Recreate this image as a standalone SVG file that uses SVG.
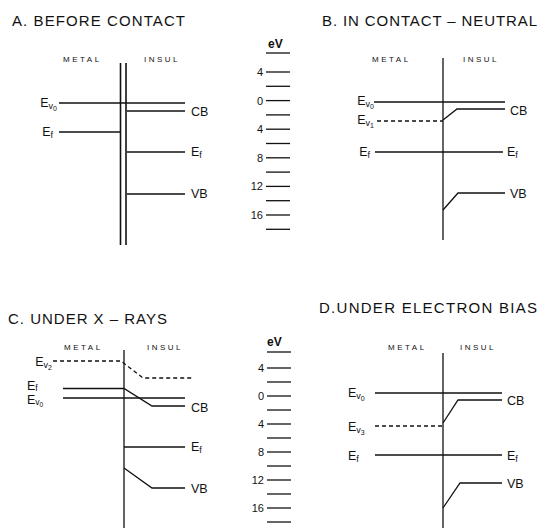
<svg xmlns="http://www.w3.org/2000/svg" width="539" height="528" viewBox="0 0 539 528">
<style>
text{font-family:"Liberation Sans",Arial,sans-serif;fill:#111}
.t{font-size:15px}
.sm{font-size:8px;letter-spacing:2.5px}
.l{font-size:12.5px}
.s{font-size:11px}
.ev{font-size:12px;font-weight:bold}
.ln{stroke:#111;stroke-width:1.3;fill:none}
.d{stroke-dasharray:4 3}
.vt{stroke:#111;stroke-width:1.6;fill:none}
</style>
<rect width="539" height="528" fill="#fff"/>

<g id="panelA">
<text class="t" x="12" y="26" textLength="173" lengthAdjust="spacing">A. BEFORE CONTACT</text>
<text class="sm" x="63" y="62">METAL</text>
<text class="sm" x="144" y="62">INSUL</text>
<line class="vt" x1="120.5" y1="63" x2="120.5" y2="245"/>
<line class="vt" x1="126" y1="63" x2="126" y2="245"/>
<line class="ln" x1="59" y1="103" x2="185" y2="103"/>
<line class="ln" x1="127" y1="111" x2="185" y2="111"/>
<line class="ln" x1="59" y1="132" x2="120" y2="132"/>
<line class="ln" x1="127" y1="152" x2="185" y2="152"/>
<line class="ln" x1="127" y1="194" x2="185" y2="194"/>
<text class="l" x="57" y="107" text-anchor="end">E<tspan font-size="9" dy="2">v</tspan><tspan font-size="7" dy="2">0</tspan></text>
<text class="l" x="53" y="136" text-anchor="end">E<tspan font-size="9" dy="2">f</tspan></text>
<text class="l" x="191" y="115.5">CB</text>
<text class="l" x="191" y="156">E<tspan font-size="9" dy="2">f</tspan></text>
<text class="l" x="191" y="198">VB</text>
</g>

<g id="scaleA">
<text class="ev" x="268" y="48">eV</text>
<g class="ln">
<line x1="266" y1="53" x2="290" y2="53"/>
<line x1="266" y1="72" x2="290" y2="72"/>
<line x1="266" y1="86.3" x2="290" y2="86.3"/>
<line x1="266" y1="100.6" x2="290" y2="100.6"/>
<line x1="266" y1="114.9" x2="290" y2="114.9"/>
<line x1="266" y1="129.2" x2="290" y2="129.2"/>
<line x1="266" y1="143.5" x2="290" y2="143.5"/>
<line x1="266" y1="157.8" x2="290" y2="157.8"/>
<line x1="266" y1="172.1" x2="290" y2="172.1"/>
<line x1="266" y1="186.4" x2="290" y2="186.4"/>
<line x1="266" y1="200.7" x2="290" y2="200.7"/>
<line x1="266" y1="215" x2="290" y2="215"/>
<line x1="266" y1="229.3" x2="290" y2="229.3"/>
</g>
<g text-anchor="end">
<text class="s" x="263" y="76">4</text>
<text class="s" x="263" y="104.6">0</text>
<text class="s" x="263" y="133.2">4</text>
<text class="s" x="263" y="161.8">8</text>
<text class="s" x="263" y="190.4">12</text>
<text class="s" x="263" y="219">16</text>
</g>
</g>

<g id="panelB">
<text class="t" x="322" y="26" textLength="215" lengthAdjust="spacing">B. IN CONTACT – NEUTRAL</text>
<text class="sm" x="372" y="62">METAL</text>
<text class="sm" x="463" y="62">INSUL</text>
<line class="ln" x1="443" y1="58" x2="443" y2="240"/>
<line class="ln" x1="374" y1="102" x2="505" y2="102"/>
<line class="ln d" x1="377" y1="121" x2="443" y2="121"/>
<polyline class="ln" points="443,120 457,109 505,109"/>
<line class="ln" x1="375" y1="152" x2="503" y2="152"/>
<polyline class="ln" points="443,210 458,193 505,193"/>
<text class="l" x="374" y="105" text-anchor="end">E<tspan font-size="9" dy="2">v</tspan><tspan font-size="7" dy="2">0</tspan></text>
<text class="l" x="374" y="124" text-anchor="end">E<tspan font-size="9" dy="2">v</tspan><tspan font-size="7" dy="2">1</tspan></text>
<text class="l" x="370" y="156" text-anchor="end">E<tspan font-size="9" dy="2">f</tspan></text>
<text class="l" x="510" y="114.5">CB</text>
<text class="l" x="507" y="156">E<tspan font-size="9" dy="2">f</tspan></text>
<text class="l" x="510" y="197.5">VB</text>
</g>

<g id="panelC">
<text class="t" x="8" y="324" textLength="159" lengthAdjust="spacing">C. UNDER X – RAYS</text>
<text class="sm" x="64" y="350">METAL</text>
<text class="sm" x="147" y="350">INSUL</text>
<line class="ln" x1="124" y1="350" x2="124" y2="528" stroke-width="2"/>
<polyline class="ln d" points="53,361 121,361 143,378 192,378"/>
<polyline class="ln" points="63,388.5 124,388.5 152,406 185,406"/>
<line class="ln" x1="63" y1="398" x2="185" y2="398"/>
<line class="ln" x1="124" y1="447" x2="185" y2="447"/>
<polyline class="ln" points="124,468 152,488 185,488"/>
<text class="l" x="52" y="366" text-anchor="end">E<tspan font-size="9" dy="2">v</tspan><tspan font-size="7" dy="2">2</tspan></text>
<text class="l" x="27" y="389.5" font-size="11.5">E<tspan font-size="8.5" dy="1">f</tspan></text>
<text class="l" x="27" y="403.5" font-size="11.5">E<tspan font-size="8.5" dy="1.5">v</tspan><tspan font-size="6.5" dy="1.5">0</tspan></text>
<text class="l" x="191" y="411.5">CB</text>
<text class="l" x="191" y="451">E<tspan font-size="9" dy="2">f</tspan></text>
<text class="l" x="191" y="492.5">VB</text>
</g>

<g id="scaleC">
<text class="ev" x="267" y="346">eV</text>
<g class="ln">
<line x1="267" y1="352" x2="291" y2="352"/>
<line x1="267" y1="368" x2="291" y2="368"/>
<line x1="267" y1="382" x2="291" y2="382"/>
<line x1="267" y1="396" x2="291" y2="396"/>
<line x1="267" y1="410" x2="291" y2="410"/>
<line x1="267" y1="424" x2="291" y2="424"/>
<line x1="267" y1="438" x2="291" y2="438"/>
<line x1="267" y1="452" x2="291" y2="452"/>
<line x1="267" y1="466" x2="291" y2="466"/>
<line x1="267" y1="480" x2="291" y2="480"/>
<line x1="267" y1="494" x2="291" y2="494"/>
<line x1="267" y1="508" x2="291" y2="508"/>
<line x1="267" y1="522" x2="291" y2="522"/>
</g>
<g text-anchor="end">
<text class="s" x="264" y="372">4</text>
<text class="s" x="264" y="400">0</text>
<text class="s" x="264" y="428">4</text>
<text class="s" x="264" y="456">8</text>
<text class="s" x="264" y="484">12</text>
<text class="s" x="264" y="512">16</text>
</g>
</g>

<g id="panelD">
<text class="t" x="319" y="313" textLength="218" lengthAdjust="spacing">D.UNDER ELECTRON BIAS</text>
<text class="sm" x="388" y="350">METAL</text>
<text class="sm" x="460" y="350">INSUL</text>
<line class="ln" x1="443" y1="353" x2="443" y2="528"/>
<line class="ln" x1="375" y1="393" x2="502" y2="393"/>
<polyline class="ln" points="443,423 458,400 502,400"/>
<line class="ln d" x1="375" y1="426" x2="443" y2="426"/>
<line class="ln" x1="375" y1="455" x2="502" y2="455"/>
<polyline class="ln" points="443,508 460,483 502,483"/>
<text class="l" x="348" y="397">E<tspan font-size="9" dy="2">v</tspan><tspan font-size="7" dy="2">0</tspan></text>
<text class="l" x="348" y="431">E<tspan font-size="9" dy="2">v</tspan><tspan font-size="7" dy="2">3</tspan></text>
<text class="l" x="348" y="459.5">E<tspan font-size="9" dy="2">f</tspan></text>
<text class="l" x="507" y="405">CB</text>
<text class="l" x="507" y="459.5">E<tspan font-size="9" dy="2">f</tspan></text>
<text class="l" x="507" y="488">VB</text>
</g>
</svg>
